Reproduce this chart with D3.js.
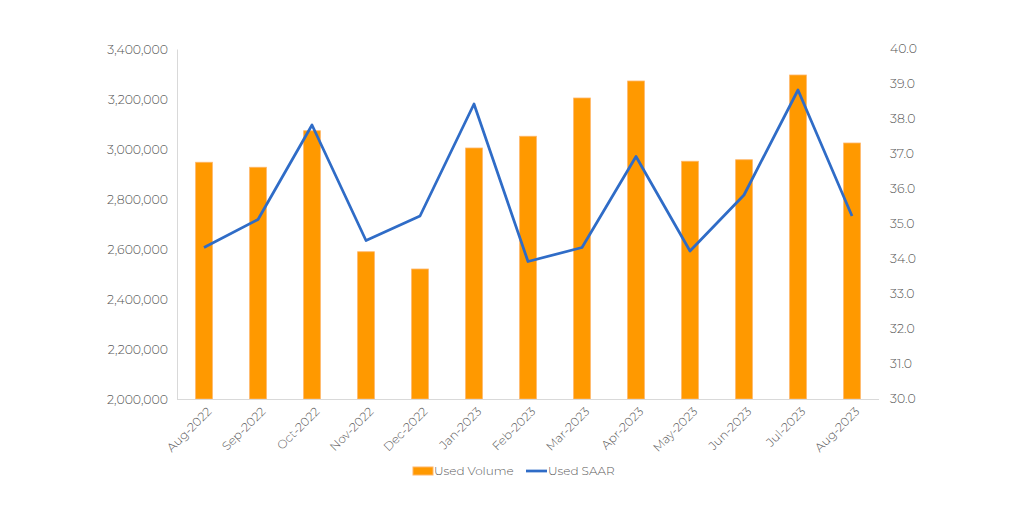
<!DOCTYPE html>
<html><head><meta charset="utf-8">
<script src="https://cdn.jsdelivr.net/npm/d3@7"></script>
<style>body{margin:0;background:#fff}svg{display:block}text{font-family:"Montserrat","Lato","Open Sans",sans-serif;font-weight:300;fill:#595959}</style>
</head><body><svg id="c" width="1024" height="512"></svg>
<script>
const categories = ["Aug-2022","Sep-2022","Oct-2022","Nov-2022","Dec-2022","Jan-2023","Feb-2023","Mar-2023","Apr-2023","May-2023","Jun-2023","Jul-2023","Aug-2023"];
const usedVolume = [2947000,2927000,3073000,2589000,2520000,3004000,3051000,3204000,3272000,2951000,2957000,3296000,3024000];
const usedSAAR = [34.3,35.1,37.8,34.5,35.2,38.4,33.9,34.3,36.9,34.2,35.8,38.8,35.2];
const leftTicks = [2000000,2200000,2400000,2600000,2800000,3000000,3200000,3400000];
const rightTicks = [30,31,32,33,34,35,36,37,38,39,40];
const seriesNames = ["Used Volume","Used SAAR"];

const svg = d3.select("#c");
const m = {l:177, r:879, t:49, b:399};
const x = d3.scaleBand().domain(categories).range([m.l, m.r]).paddingInner(0.69).paddingOuter(0.345);
const yL = d3.scaleLinear().domain([2000000,3400000]).range([m.b, m.t]);
const yR = d3.scaleLinear().domain([30,40]).range([m.b-1, m.t-1]);

const gL = svg.append("g").attr("transform",`translate(${m.l},0)`)
  .call(d3.axisLeft(yL).tickValues(leftTicks).tickFormat(d3.format(",")).tickSize(0).tickPadding(9));
gL.select(".domain").attr("stroke","#d9d9d9");
gL.selectAll("text").style("font-size","12.5px").attr("fill","#595959");

const gR = svg.append("g").attr("transform",`translate(${m.r},0)`)
  .call(d3.axisRight(yR).tickValues(rightTicks).tickFormat(d3.format(".1f")).tickSize(0).tickPadding(11));
gR.select(".domain").remove();
gR.selectAll("text").style("font-size","12.5px").attr("fill","#595959");

svg.append("g").selectAll("rect").data(categories).join("rect")
  .attr("x", d => x(d))
  .attr("width", x.bandwidth())
  .attr("y", (d,i) => yL(usedVolume[i]))
  .attr("height", (d,i) => yL(2000000) - yL(usedVolume[i]))
  .attr("fill","#ff9900").attr("stroke","#ffb566").attr("stroke-width",0.8);

const gB = svg.append("g").attr("transform",`translate(0,${m.b})`)
  .call(d3.axisBottom(x).tickSize(0).tickPadding(8));
gB.select(".domain").attr("stroke","#d9d9d9").attr("d",`M${m.l},0.5H${m.r}`);
gB.selectAll("text").style("font-size","12px").attr("fill","#595959")
  .attr("text-anchor","end").attr("dx","-0.3em").attr("dy","0.6em")
  .attr("transform","rotate(-45)");

const line = d3.line().x((d,i) => x(categories[i]) + x.bandwidth()/2).y(d => yR(d));
svg.append("path").datum(usedSAAR).attr("d", line)
  .attr("fill","none").attr("stroke","#2f6cc7").attr("stroke-width",2.75).attr("stroke-linejoin","round");

const lg = svg.append("g");
lg.append("rect").attr("x",413).attr("y",467).attr("width",20).attr("height",8).attr("fill","#ff9900").attr("stroke","#ffb566");
lg.append("text").attr("x",434).attr("y",475).text(seriesNames[0]).style("font-size","12px");
lg.append("line").attr("x1",526).attr("x2",547).attr("y1",471).attr("y2",471).attr("stroke","#2f6cc7").attr("stroke-width",2.75);
lg.append("text").attr("x",548).attr("y",475).text(seriesNames[1]).style("font-size","12px");
</script></body></html>
